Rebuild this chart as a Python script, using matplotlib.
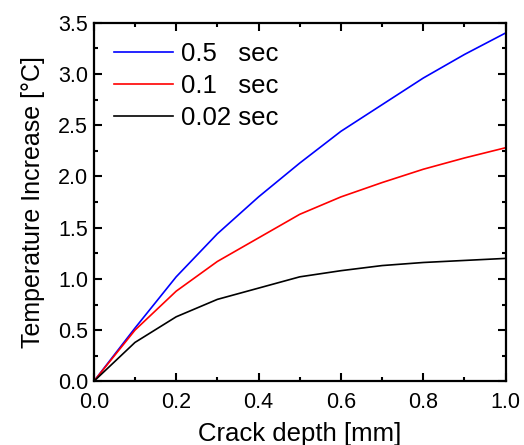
import matplotlib
matplotlib.use("Agg")
import matplotlib.pyplot as plt
from matplotlib.ticker import MultipleLocator

plt.rcParams['font.family'] = ['Liberation Sans', 'DejaVu Sans']

# crack depth [mm]
depth = [0.0, 0.1, 0.2, 0.3, 0.4, 0.5, 0.6, 0.7, 0.8, 0.9, 1.0]
# temperature increase [°C] for each heating time
t_05 = [0.0, 0.52, 1.02, 1.44, 1.80, 2.13, 2.44, 2.70, 2.96, 3.19, 3.40]
t_01 = [0.0, 0.50, 0.88, 1.17, 1.40, 1.63, 1.80, 1.94, 2.07, 2.18, 2.28]
t_002 = [0.0, 0.38, 0.63, 0.80, 0.91, 1.02, 1.08, 1.13, 1.16, 1.18, 1.20]
labels = ["0.5   sec", "0.1   sec", "0.02 sec"]

fig = plt.figure(figsize=(5.24, 4.45), dpi=100)
ax = fig.add_axes([0.179, 0.143, 0.786, 0.806])

ax.plot(depth, t_05, color="#0000ff", lw=1.2, label=labels[0])
ax.plot(depth, t_01, color="#ff0000", lw=1.2, label=labels[1])
ax.plot(depth, t_002, color="black", lw=1.2, label=labels[2])

ax.set_xlim(0, 1.0)
ax.set_ylim(0, 3.5)
ax.xaxis.set_major_locator(MultipleLocator(0.2))
ax.xaxis.set_minor_locator(MultipleLocator(0.1))
ax.yaxis.set_major_locator(MultipleLocator(0.5))
ax.yaxis.set_minor_locator(MultipleLocator(0.25))
ax.tick_params(which="both", direction="in", top=True, right=True, width=1.5,
               labelsize=15.5)
ax.tick_params(which="major", length=6)
ax.tick_params(which="minor", length=3)
ax.tick_params(axis="x", which="major", pad=8)
ax.tick_params(axis="y", which="major", pad=4)
for s in ax.spines.values():
    s.set_linewidth(1.6)

ax.set_xlabel("Crack depth [mm]", fontsize=18.5, labelpad=6)
ax.set_ylabel("Temperature Increase [°C]", fontsize=18, labelpad=9)

ax.legend(loc="upper left", frameon=False, fontsize=18.5, handlelength=2.3,
          handletextpad=0.3, labelspacing=0.3, borderaxespad=0.0,
          borderpad=0.0, bbox_to_anchor=(0.05, 0.945))

fig.savefig("out.png", dpi=100)
